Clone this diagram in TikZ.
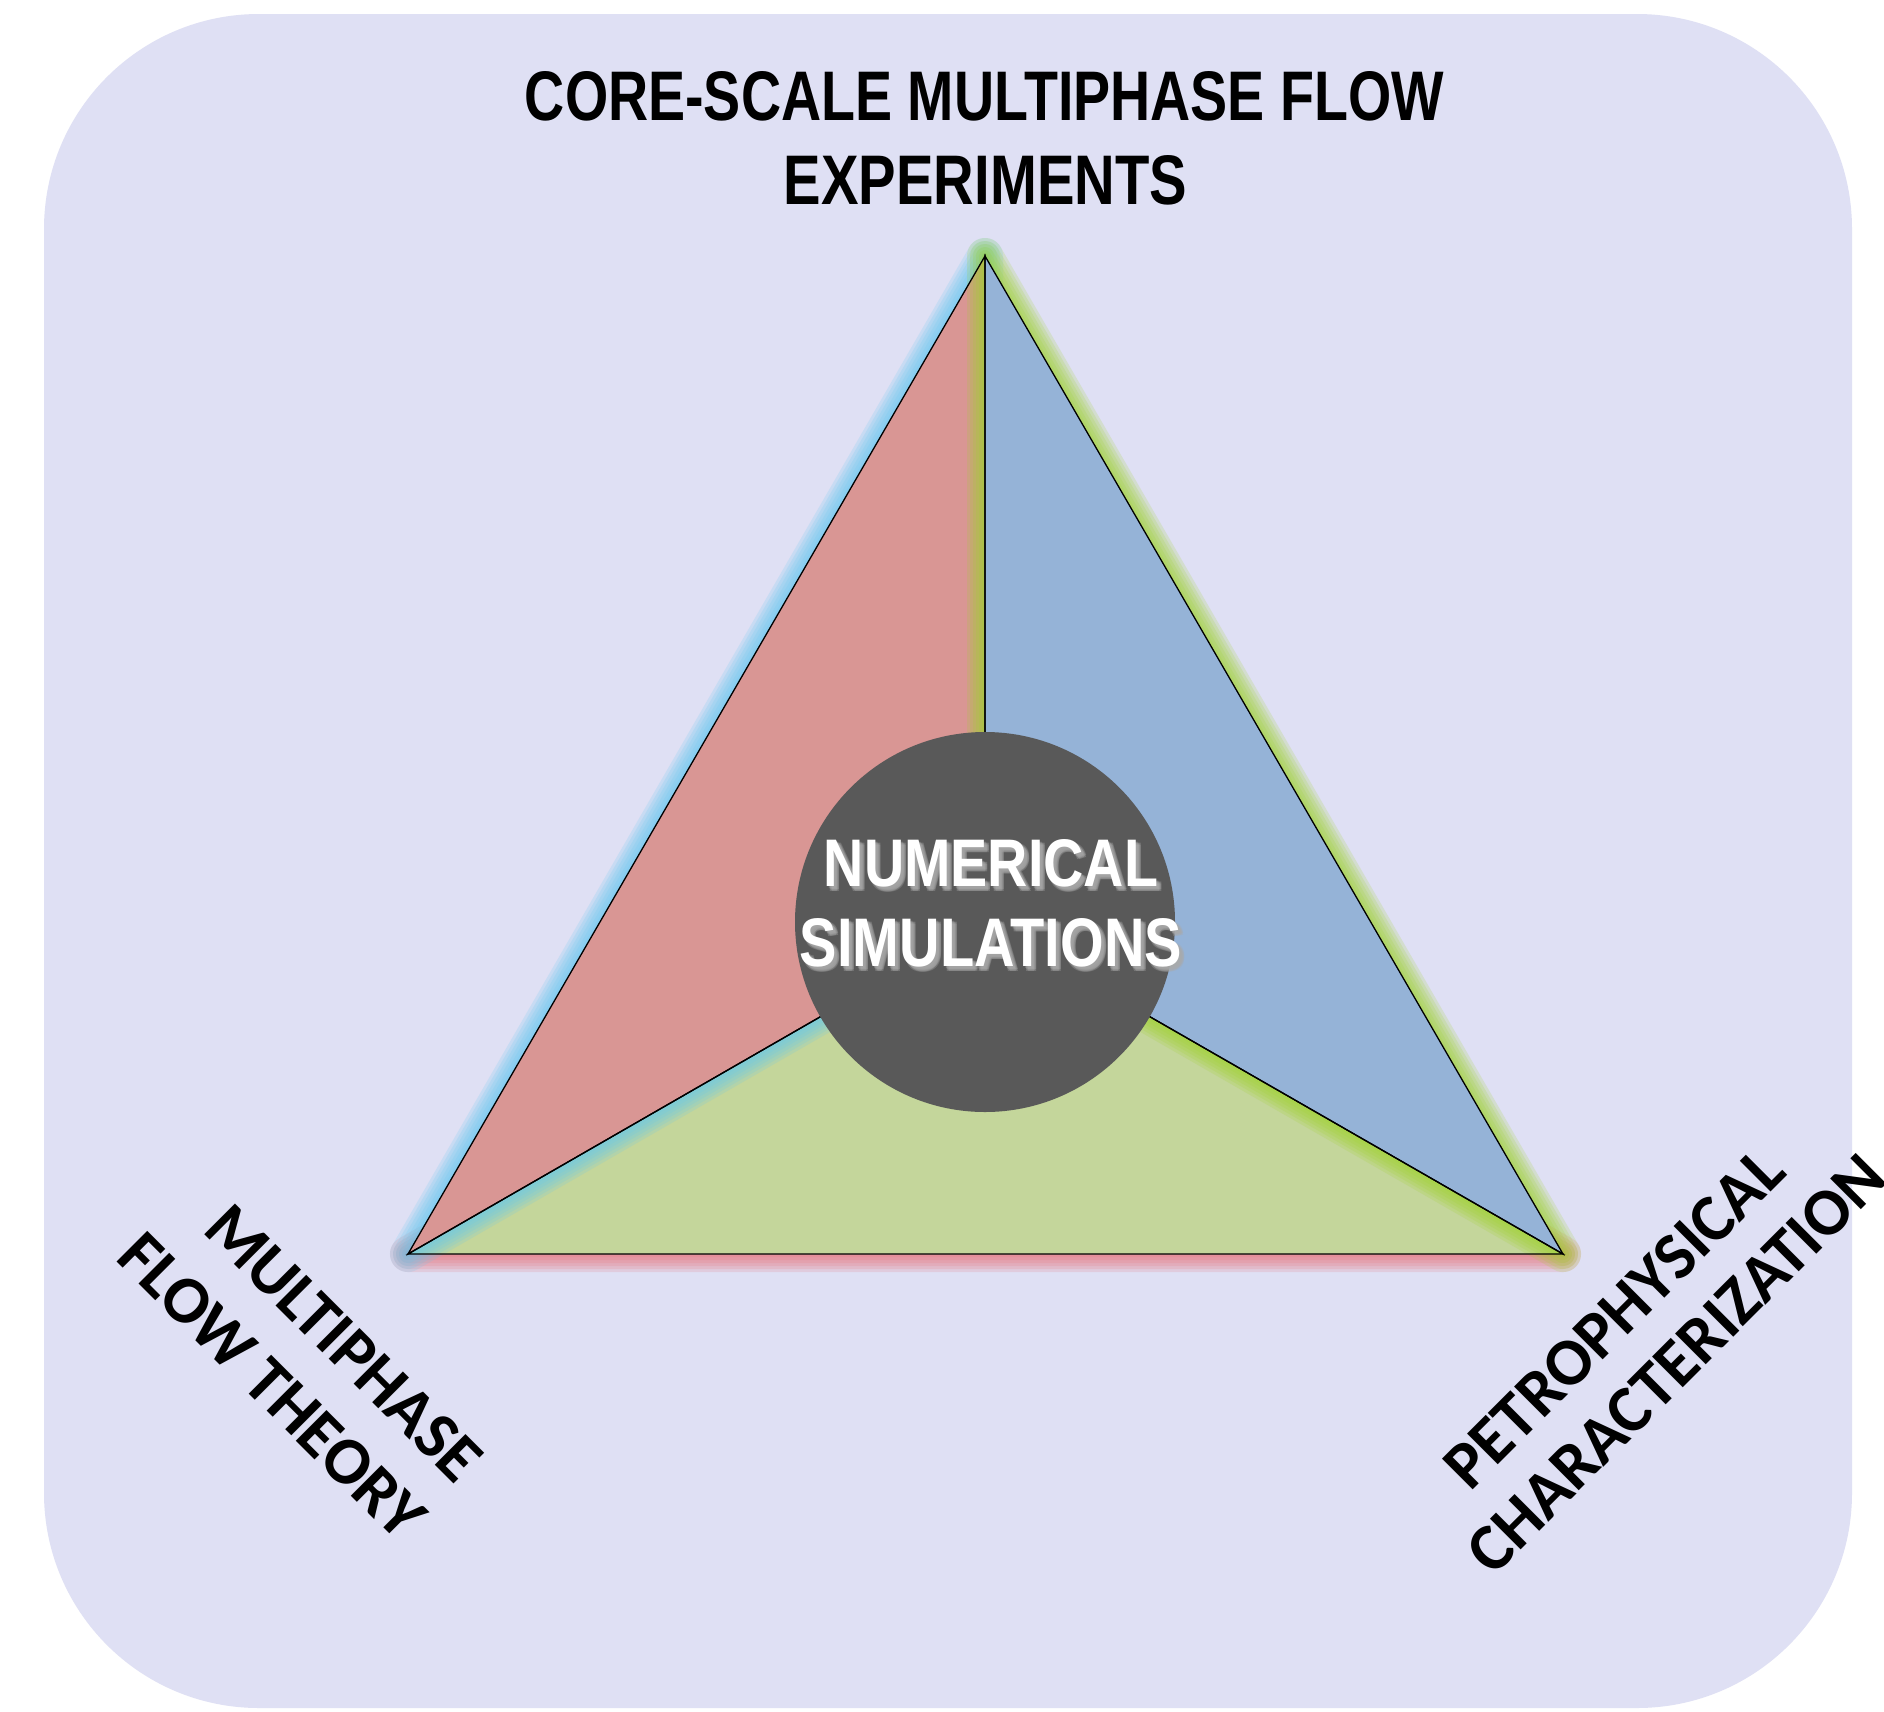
\documentclass[tikz,border=0pt]{standalone}
\usepackage{fontspec}
\usepackage{graphicx}
\newfontfamily\calfont{Carlito}
\newfontfamily\narrowfont{Liberation Sans}
\definecolor{bgcol}{RGB}{223,224,244}
\definecolor{redfill}{RGB}{217,150,148}
\definecolor{bluefill}{RGB}{149,179,215}
\definecolor{greenfill}{RGB}{196,214,155}
\definecolor{circfill}{RGB}{89,89,89}
\definecolor{glowcyan}{RGB}{100,200,240}
\definecolor{glowgreen}{RGB}{158,210,44}
\definecolor{glowpink}{RGB}{233,113,119}
\definecolor{shadowgray}{RGB}{170,170,170}
\newcommand{\glowpath}[2]{\foreach \gw in {36,30,24,18,12,6}{\draw[draw=#1, line width=\gw pt, opacity=0.18, line join=round] #2;}}
\begin{document}
\begin{tikzpicture}[x=1pt,y=-1pt,
  facet/.style={draw=black, line width=1.3pt, line join=miter},
  sidelabel/.style={inner sep=0pt, font=\calfont\bfseries\fontsize{67pt}{80pt}\selectfont, text=black},
  titlelabel/.style={inner sep=0pt, text=black},
  simlabel/.style={inner sep=0pt, text=white}]
\useasboundingbox (0,0) rectangle (1884,1711);
\fill[white] (0,0) rectangle (1884,1711);
\fill[bgcol, rounded corners=215pt] (44,14) rectangle (1852,1708);

\coordinate (A) at (985,256);
\coordinate (L) at (408,1254);
\coordinate (R) at (1563,1254);
\coordinate (O) at (985,922);

% green (bottom) facet
\glowpath{glowpink}{(L) -- (R) -- (O) -- cycle}
\fill[greenfill] (L) -- (R) -- (O) -- cycle;
% red (left) facet
\glowpath{glowcyan}{(A) -- (L) -- (O) -- cycle}
\fill[redfill] (A) -- (L) -- (O) -- cycle;
% blue (right) facet
\glowpath{glowgreen}{(A) -- (R) -- (O) -- cycle}
\fill[bluefill] (A) -- (R) -- (O) -- cycle;
% outlines
\draw[facet] (L) -- (R) -- (O) -- cycle;
\draw[facet] (A) -- (L) -- (O) -- cycle;
\draw[facet] (A) -- (R) -- (O) -- cycle;

% central circle
\node[circle, fill=circfill, minimum size=380pt, inner sep=0pt] (sim) at (O) {};

% text shadows
\foreach \dx/\dy [count=\i] in {2/2,3/3,4/4,5/5,3/5,5/3}{
  \node[simlabel, text=shadowgray, opacity=0.35] (numsh\i) at (991+\dx,863.5+\dy) {\resizebox{334pt}{47pt}{\narrowfont\bfseries NUMERICAL}};
  \node[simlabel, text=shadowgray, opacity=0.35] (simsh\i) at (991+\dx,942.5+\dy) {\resizebox{382pt}{48pt}{\narrowfont\bfseries SIMULATIONS}};
}
\node[simlabel] (num) at (991,863.5) {\resizebox{334pt}{47pt}{\narrowfont\bfseries NUMERICAL}};
\node[simlabel] (sims) at (991,942.5) {\resizebox{382pt}{48pt}{\narrowfont\bfseries SIMULATIONS}};

% title
\node[titlelabel] (title1) at (984.5,96) {\resizebox{919pt}{49pt}{\narrowfont\bfseries CORE-SCALE MULTIPHASE FLOW}};
\node[titlelabel] (title2) at (985.5,180) {\resizebox{403pt}{49pt}{\narrowfont\bfseries EXPERIMENTS}};

% side labels
\node[sidelabel, rotate=-45] (mult1) at (344,1343) {MULTIPHASE};
\node[sidelabel, rotate=-45] (mult2) at (272,1386) {FLOW THEORY};
\node[sidelabel, rotate=45] (petro1) at (1614,1318) {PETROPHYSICAL};
\node[sidelabel, rotate=45] (petro2) at (1676,1364) {CHARACTERIZATION};
\end{tikzpicture}
\end{document}
